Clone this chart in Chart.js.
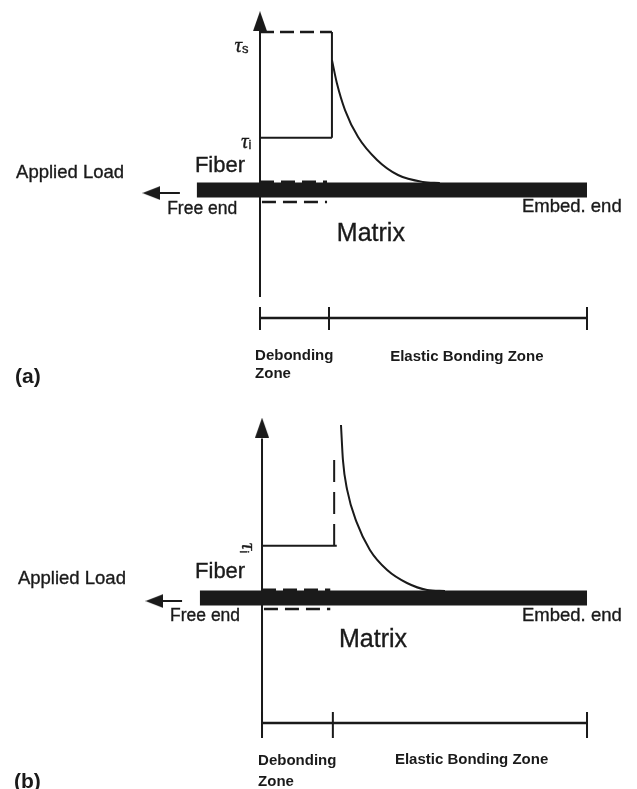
<!DOCTYPE html>
<html><head><meta charset="utf-8">
<script src="https://cdn.jsdelivr.net/npm/chart.js@4.4.1/dist/chart.umd.min.js"></script>
<style>
body{margin:0;background:#fff;}
#wrap{position:relative;width:637px;height:789px;overflow:hidden;font-family:"Liberation Sans",Arial,sans-serif;color:#1a1a1a;}
.panel{position:absolute;left:0;width:637px;}
.panel canvas{position:absolute;left:0;top:0;}
.lbl{position:absolute;white-space:nowrap;line-height:1;transform:translateY(-50%);-webkit-text-stroke:0.35px #1a1a1a;}
.tau{font-family:"Liberation Serif","DejaVu Serif",serif;font-style:italic;}
.tau sub{font-size:0.62em;vertical-align:-0.15em;line-height:0;font-style:normal;font-family:"Liberation Sans",sans-serif;}
</style></head><body>
<div id="wrap">
  <div class="panel" id="pa" style="top:0;height:400px"><canvas id="ca" width="637" height="400"></canvas></div>
  <div class="panel" id="pb" style="top:400px;height:389px"><canvas id="cb" width="637" height="389"></canvas></div>
</div>
<script>
// ---------- DATA (normalised: x = position along fibre, 0 = free end, 1 = embedded end;
//            y = interfacial shear stress, tau_s = 1) ----------
const tauS = 1.0;
const tauI = 0.33;
const debondA = 0.22;          // debonded length, panel (a)
const debondB = 0.222;         // debonded length, panel (b)
const zoneTicksA = [0, 0.211, 1.0];
const zoneTicksB = [0, 0.218, 1.0];
const fiberA = [-0.193, 1.0];
const fiberB = [-0.191, 1.0];
const curveAx = [0.220, 0.235, 0.260, 0.300, 0.358, 0.422, 0.498, 0.550];
const curveAy = [0.823, 0.677, 0.506, 0.335, 0.190, 0.095, 0.051, 0.044];
const curveBx = [0.243, 0.249, 0.262, 0.292, 0.332, 0.385, 0.446, 0.508, 0.563];
const curveBy = [1.095, 0.873, 0.684, 0.475, 0.304, 0.177, 0.095, 0.051, 0.044];
const labelsA = ["τs", "τi", "Fiber", "Applied Load", "Free end", "Matrix", "Embed. end", "Debonding", "Zone", "Elastic Bonding Zone", "(a)"];
const labelsB = ["τi", "Fiber", "Applied Load", "Free end", "Matrix", "Embed. end", "Debonding", "Zone", "Elastic Bonding Zone", "(b)"];

// ---------- LAYOUT (geometry in the same data units, kept apart from the data) ----------
const layoutA = {
  xr: [-0.7951, 1.1529], yr: [-1.3291, 1.2025],
  axis: {bottom: -0.677, base: 1.01, tip: 1.127},
  zone: {level: -0.81, top: -0.74, bot: -0.886},
  load: {tip: -0.358, back: -0.306, end: -0.245, level: -0.019},
  dashTop: 0.051, dashBot: -0.076, dashEnd: 0.205,
  dashedVertical: false, vTop: tauS,
  labels: [
    {x:-0.078, y:0.918, size:21, tau:'s'},
    {x:-0.058, y:0.31, size:21, tau:'i'},
    {x:-0.199, y:0.158, size:22},
    {x:-0.746, y:0.117, size:18.5},
    {x:-0.284, y:-0.12, size:17.5},
    {x:0.235, y:-0.263, size:25},
    {x:0.801, y:-0.104, size:18.5},
    {x:-0.015, y:-1.035, size:15, bold:true},
    {x:-0.015, y:-1.155, size:15, bold:true},
    {x:0.398, y:-1.044, size:15, bold:true},
    {x:-0.749, y:-1.171, size:21, bold:true}
  ]
};
const layoutB = {
  xr: [-0.8062, 1.1538], yr: [-1.2089, 1.2532],
  axis: {bottom: -0.88, base: 1.01, tip: 1.146},
  zone: {level: -0.791, top: -0.722, bot: -0.886},
  load: {tip: -0.354, back: -0.308, end: -0.246, level: -0.019},
  dashTop: 0.05, dashBot: -0.07, dashEnd: 0.21,
  dashedVertical: true, vTop: 0.873,
  labels: [
    {x:-0.043, y:0.316, size:21, tau:'i', rot:90},
    {x:-0.206, y:0.168, size:22},
    {x:-0.751, y:0.127, size:18.5},
    {x:-0.283, y:-0.117, size:17.5},
    {x:0.237, y:-0.256, size:25},
    {x:0.8, y:-0.108, size:18.5},
    {x:-0.012, y:-1.016, size:15, bold:true},
    {x:-0.012, y:-1.152, size:15, bold:true},
    {x:0.409, y:-1.013, size:15, bold:true},
    {x:-0.763, y:-1.152, size:21, bold:true}
  ]
};

const INK = '#1a1a1a';

// arrow-head images used as point styles
function makeArrow(dir){
  const c = document.createElement('canvas');
  const ctx = c.getContext('2d');
  if (dir === 'up') {
    c.width = 14; c.height = 20;
    ctx.fillStyle = INK; ctx.beginPath();
    ctx.moveTo(7,0); ctx.lineTo(14,20); ctx.lineTo(0,20); ctx.closePath(); ctx.fill();
  } else {
    c.width = 18; c.height = 14;
    ctx.fillStyle = INK; ctx.beginPath();
    ctx.moveTo(0,7); ctx.lineTo(18,0); ctx.lineTo(18,14); ctx.closePath(); ctx.fill();
  }
  return c;
}
const upArrow = makeArrow('up');
const leftArrow = makeArrow('left');

function line(points, width, dash){
  return {data: points.map(p => ({x:p[0], y:p[1]})), showLine:true, borderColor:INK,
          borderWidth:width, borderDash:dash || [], pointRadius:0, fill:false, borderCapStyle:'butt', clip:false};
}

function buildDatasets(L, fiber, debond, cx, cy, ticks, hasTauS){
  const ds = [];
  // fibre
  ds.push(line([[fiber[0],0],[fiber[1],0]], 15));
  // debonded zone dashed edges on the fibre
  ds.push(line([[0,L.dashTop],[L.dashEnd,L.dashTop]], 3, [14,7]));
  ds.push(line([[0.006,L.dashBot],[L.dashEnd,L.dashBot]], 2.5, [14,7]));
  // vertical stress axis + arrow head
  ds.push(line([[0,L.axis.bottom],[0,L.axis.base]], 2));
  ds.push({data:[{x:0, y:(L.axis.base+L.axis.tip)/2}], showLine:false, pointStyle:upArrow, pointRadius:5, clip:false});
  // tau_s dashed level
  if (hasTauS) ds.push(line([[0,tauS],[debond,tauS]], 2.5, [14,6]));
  // vertical at end of debond zone
  ds.push(line([[debond,L.vTop],[debond,tauI]], 2, L.dashedVertical ? [22,10] : []));
  // tau_i level
  ds.push(line([[0,tauI],[debond + (L.dashedVertical ? 0.008 : 0),tauI]], 2));
  // elastic shear stress decay curve
  const c = line(cx.map((x,i)=>[x, cy[i]]), 2);
  c.cubicInterpolationMode = 'monotone';
  ds.push(c);
  // applied load arrow
  ds.push(line([[L.load.back,L.load.level],[L.load.end,L.load.level]], 2));
  ds.push({data:[{x:(L.load.tip+L.load.back)/2, y:L.load.level}], showLine:false, pointStyle:leftArrow, pointRadius:5, clip:false});
  // zone bar
  ds.push(line([[ticks[0],L.zone.level],[ticks[ticks.length-1],L.zone.level]], 2.5));
  ticks.forEach(t => ds.push(line([[t,L.zone.top],[t,L.zone.bot]], 2)));
  return ds;
}

function labelPlugin(container, texts, L){
  const els = texts.map((t,i) => {
    const spec = L.labels[i];
    const d = document.createElement('div');
    d.className = 'lbl' + (spec.tau ? ' tau' : '');
    if (spec.tau) { d.innerHTML = 'τ<sub>' + spec.tau + '</sub>'; }
    else d.textContent = t;
    d.style.fontSize = spec.size + 'px';
    if (spec.bold) { d.style.fontWeight = 'bold'; d.style.webkitTextStroke = '0px'; }
    container.appendChild(d);
    return d;
  });
  return {
    id: 'htmlLabels',
    afterRender(chart){
      const sx = chart.scales.x, sy = chart.scales.y;
      els.forEach((d,i) => {
        const spec = L.labels[i];
        const px = sx.getPixelForValue(spec.x), py = sy.getPixelForValue(spec.y);
        d.style.left = px + 'px'; d.style.top = py + 'px';
        if (spec.rot) d.style.transform = 'translate(-50%,-50%) rotate(' + spec.rot + 'deg)';
      });
    }
  };
}

function makeChart(canvasId, panelId, L, datasets, texts){
  return new Chart(document.getElementById(canvasId), {
    type: 'scatter',
    data: {datasets},
    options: {
      responsive:false, animation:false, devicePixelRatio:1,
      layout:{padding:0, autoPadding:false},
      plugins:{legend:{display:false}, tooltip:{enabled:false}},
      scales:{
        x:{type:'linear', display:false, min:L.xr[0], max:L.xr[1]},
        y:{type:'linear', display:false, min:L.yr[0], max:L.yr[1]}
      }
    },
    plugins:[labelPlugin(document.getElementById(panelId), texts, L)]
  });
}

makeChart('ca', 'pa', layoutA, buildDatasets(layoutA, fiberA, debondA, curveAx, curveAy, zoneTicksA, true), labelsA);
makeChart('cb', 'pb', layoutB, buildDatasets(layoutB, fiberB, debondB, curveBx, curveBy, zoneTicksB, false), labelsB);
</script>
</body></html>
